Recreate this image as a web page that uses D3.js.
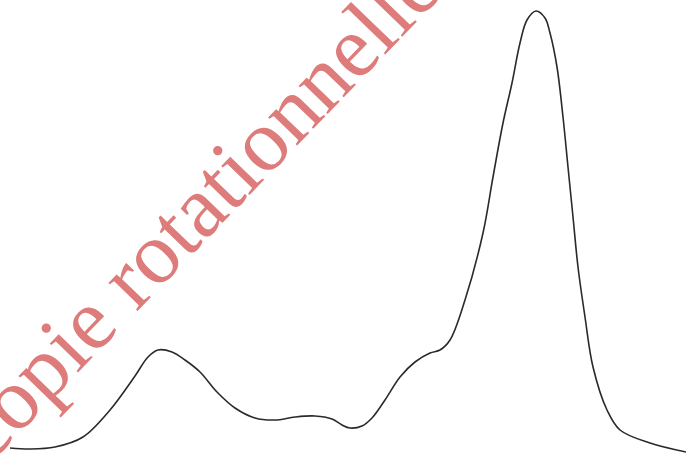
<!DOCTYPE html>
<html>
<head>
<meta charset="utf-8">
<script src="https://cdn.jsdelivr.net/npm/d3@7"></script>
</head>
<body style="margin:0">
<div id="chart" style="position:relative;width:686px;height:460px;overflow:hidden"></div>
<script>
// Positions along the scan and signal height
const xs = [10, 30, 55, 83, 110, 135, 148, 158, 172, 185, 200, 217, 235, 255, 275, 295, 315, 332, 342, 350, 362, 372, 385, 400, 415, 430, 440, 450, 465, 483, 493, 503, 512, 520, 527, 536, 545, 550, 557, 563, 568, 573, 578, 585, 593, 607, 620, 650, 686];
const ys = [12, 11, 13, 23, 50, 84, 103, 110, 108, 100, 88, 68, 52, 42, 40, 43, 44, 41, 35, 32, 34, 42, 60, 83, 98, 107, 110, 120, 160, 227, 283, 337, 377, 417, 440, 449, 442, 427, 393, 343, 293, 243, 193, 143, 93, 50, 30, 17, 8];
const watermark = "copie rotationnelle";

const width = 686, height = 460;
const chart = d3.select("#chart");

const svg = chart.append("svg")
    .style("position", "absolute")
    .style("left", "0px")
    .style("top", "0px")
    .attr("width", width)
    .attr("height", height);

const x = d3.scaleLinear().domain([0, 686]).range([0, width]);
const y = d3.scaleLinear().domain([0, 460]).range([height, 0]);

const points = xs.map((v, i) => [v, ys[i]]);

// Spectrum trace
svg.append("path")
    .datum(points)
    .attr("fill", "none")
    .attr("stroke", "#2a2a2a")
    .attr("stroke-width", 1.6)
    .attr("stroke-linejoin", "round")
    .attr("d", d3.line()
        .x(d => x(d[0]))
        .y(d => y(d[1]))
        .curve(d3.curveCatmullRom.alpha(0.5)));

// Watermark across the picture (baseline starts at -11,466, turned -46deg)
chart.append("div")
    .style("position", "absolute")
    .style("left", "-11px")
    .style("top", (466 - 73.7) + "px")
    .style("white-space", "nowrap")
    .style("font-family", '"Liberation Serif"')
    .style("font-size", "88px")
    .style("line-height", "1")
    .style("color", "#de7b7b")
    .style("transform-origin", "0px 73.7px")
    .style("transform", "rotate(-46deg)")
    .text(watermark);
</script>
</body>
</html>
